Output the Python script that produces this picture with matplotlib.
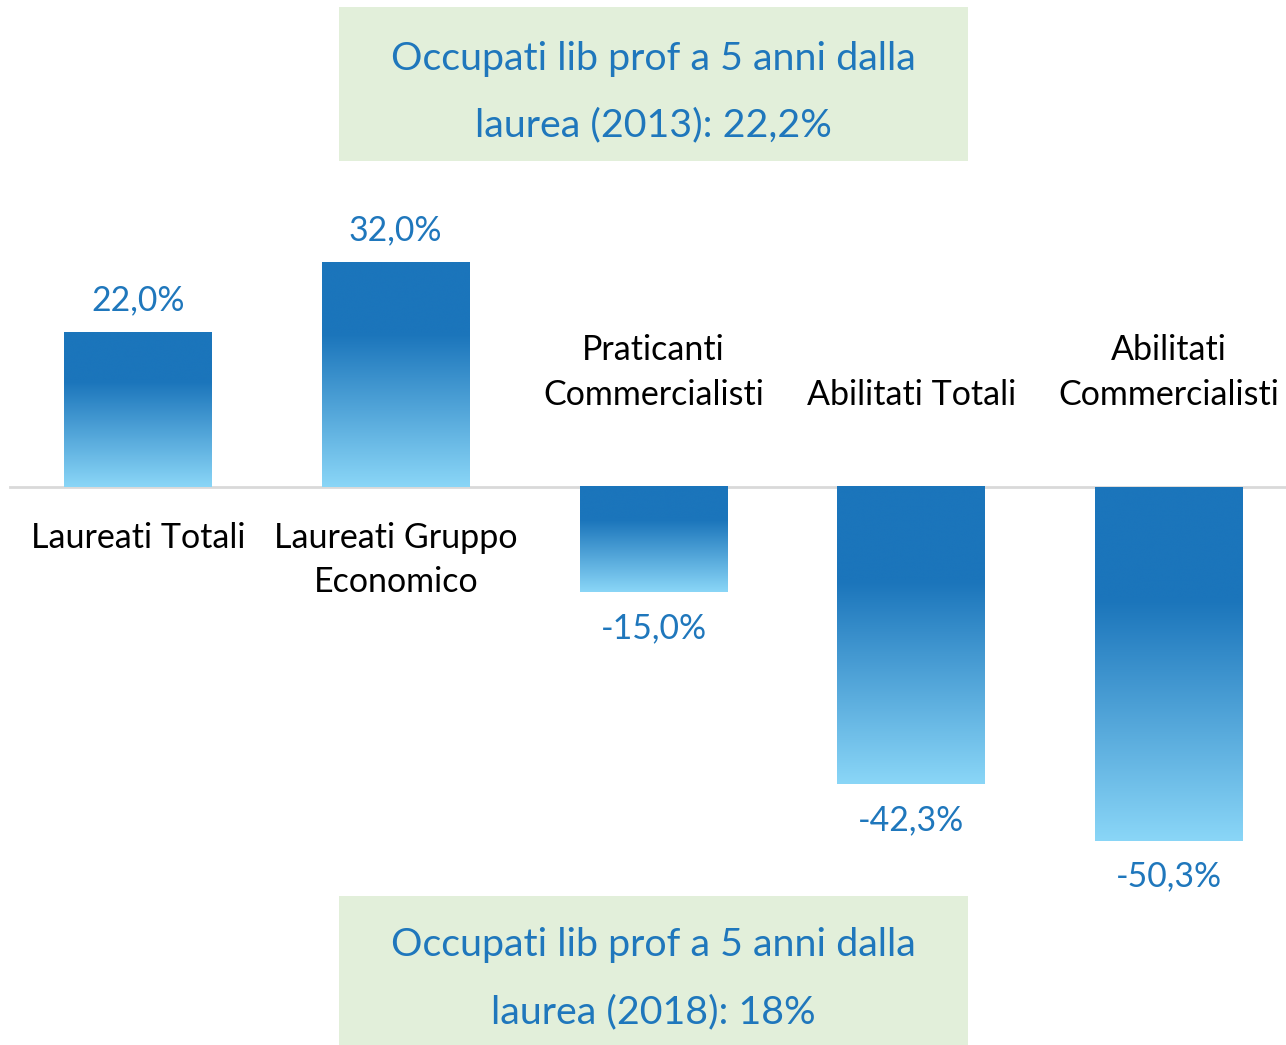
import numpy as np
import matplotlib.pyplot as plt
from matplotlib.colors import LinearSegmentedColormap
from matplotlib.patches import Rectangle

plt.rcParams['font.family'] = ['Lato', 'DejaVu Sans']

categories = ['Laureati Totali', 'Laureati Gruppo\nEconomico', 'Praticanti\nCommercialisti',
              'Abilitati Totali', 'Abilitati\nCommercialisti']
values = [22.0, 32.0, -15.0, -42.3, -50.3]
box_top = 'Occupati lib prof a 5 anni dalla\nlaurea (2013): 22,2%'
box_bottom = 'Occupati lib prof a 5 anni dalla\nlaurea (2018): 18%'

dark = '#1b75bb'
light = '#8ad6f7'
blue_txt = '#1f77bc'
# dark for top third of each bar, then fading to light at the bottom
cmap = LinearSegmentedColormap.from_list('bar', [(0, dark), (0.32, dark), (1, light)])
grad = np.linspace(0, 1, 256).reshape(-1, 1)

W, H = 1286, 1045
fig = plt.figure(figsize=(W / 100, H / 100), dpi=100)
ax = fig.add_axes([0, 0, 1, 1])
ax.axis('off')

px = 257.75  # pixels per category
py = 7.03    # pixels per percent

bw = 148 / px
x = np.arange(len(values))
for xi, v in zip(x, values):
    top, bot = max(v, 0), min(v, 0)
    ax.imshow(grad, cmap=cmap, aspect='auto', interpolation='bicubic',
              extent=(xi - bw / 2, xi + bw / 2, bot, top), zorder=2)

ax.plot([(10 - 138) / px, (W - 138) / px], [0, 0], color='#d9d9d9', lw=2, zorder=1)
ax.set_xlim(-138 / px, (W - 138) / px)
ax.set_ylim(-(H - 487) / py, 487 / py)

for xi, v, c in zip(x, values, categories):
    lab = f'{v:.1f}%'.replace('.', ',')
    if v >= 0:
        ax.annotate(lab, (xi, v), xytext=(0, 23), textcoords='offset points',
                    ha='center', va='center', fontsize=24.3, color=blue_txt)
        ax.annotate(c, (xi, 0), xytext=(0, -25), textcoords='offset points',
                    ha='center', va='top', fontsize=24.5, color='#000000', linespacing=1.48)
    else:
        ax.annotate(lab, (xi, v), xytext=(0, -26), textcoords='offset points',
                    ha='center', va='center', fontsize=24.3, color=blue_txt)
        ax.annotate(c, (xi, 0), xytext=(0, 55), textcoords='offset points',
                    ha='center', va='bottom', fontsize=24.5, color='#000000', linespacing=1.48)

for txt, y0, y1 in [(box_top, 7, 161), (box_bottom, 896, 1045)]:
    fig.patches.append(Rectangle((339 / W, 1 - y1 / H), (968 - 339) / W, (y1 - y0) / H,
                                 transform=fig.transFigure, facecolor='#e2efda',
                                 edgecolor='none', zorder=0))
    fig.text(653.5 / W, 1 - ((y0 + y1) / 2 + 8) / H, txt, ha='center', va='center',
             fontsize=28.4, color=blue_txt, linespacing=2.06)

fig.savefig('out.png', dpi=100)
